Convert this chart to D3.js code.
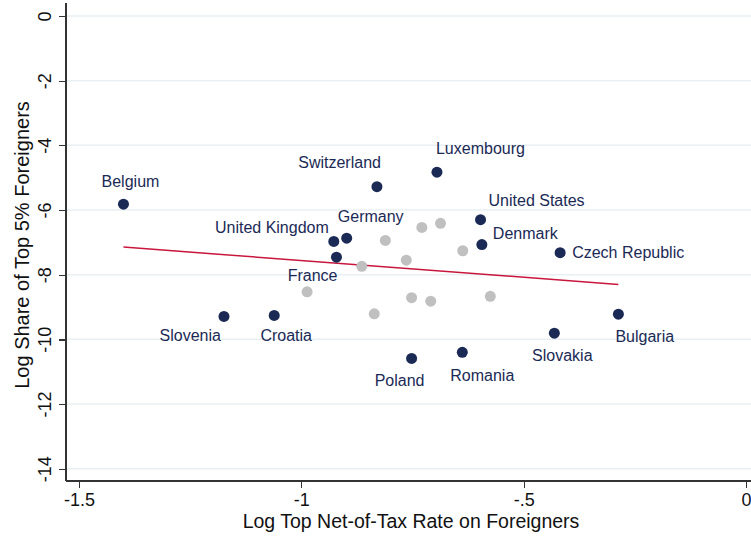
<!DOCTYPE html>
<html>
<head>
<meta charset="utf-8">
<script src="https://cdn.jsdelivr.net/npm/d3@7"></script>
<style>
  body { margin: 0; background: #fff; }
  text { font-family: "Liberation Sans", Arial, Helvetica, sans-serif; }
</style>
</head>
<body>
<script>
// labelled countries (navy dots)
const countries = ["Belgium", "Slovenia", "Croatia", "United Kingdom", "Germany", "France",
  "Switzerland", "Luxembourg", "United States", "Denmark", "Czech Republic",
  "Bulgaria", "Slovakia", "Poland", "Romania"];
const netTaxRate = [-1.400, -1.174, -1.061, -0.927, -0.898, -0.921,
  -0.830, -0.695, -0.597, -0.594, -0.418,
  -0.287, -0.431, -0.752, -0.638];
const shareForeigners = [-5.82, -9.29, -9.26, -6.97, -6.87, -7.46,
  -5.28, -4.83, -6.30, -7.07, -7.32,
  -9.22, -9.81, -10.59, -10.40];

// unlabelled countries (grey dots)
const otherRate = [-0.811, -0.729, -0.687, -0.637, -0.764, -0.864, -0.987, -0.752, -0.709, -0.575, -0.836];
const otherShare = [-6.94, -6.54, -6.41, -7.26, -7.55, -7.74, -8.53, -8.71, -8.82, -8.67, -9.21];

const xTicks = [-1.5, -1, -0.5, 0];
const yTicks = [0, -2, -4, -6, -8, -10, -12, -14];

// label placement around each marker: [dx, dy, anchor]
const labelPos = {
  "Belgium": [7, -23, "middle"],
  "Slovenia": [-3, 19, "end"],
  "Croatia": [12, 20, "middle"],
  "United Kingdom": [-5, -14, "end"],
  "Germany": [24, -22, "middle"],
  "France": [1, 18, "end"],
  "Switzerland": [4, -24, "end"],
  "Luxembourg": [-1, -24, "start"],
  "United States": [8, -19, "start"],
  "Denmark": [11, -11, "start"],
  "Czech Republic": [12, 0, "start"],
  "Bulgaria": [-3, 22, "start"],
  "Slovakia": [8, 22, "middle"],
  "Poland": [-12, 22, "middle"],
  "Romania": [20, 23, "middle"]
};

const W = 751, H = 539;
const navy = "#1a2a55", grey = "#c0c0c0", red = "#c8163c";

const x = d3.scaleLinear().domain([-1.5, 0]).range([79, 746]);
const y = d3.scaleLinear().domain([0, -14]).range([16, 468.7]);
const axisLeft = 66, axisBottom = 481;

const svg = d3.select("body").append("svg")
  .attr("width", W).attr("height", H);

// grid lines
svg.append("g").selectAll("line")
  .data(yTicks)
  .join("line")
  .attr("x1", axisLeft).attr("x2", W)
  .attr("y1", d => y(d)).attr("y2", d => y(d))
  .attr("stroke", "#e8f0f3").attr("stroke-width", 1.5);

// stata-style number labels: plain minus, no leading zero
const fmt = d => d === 0 ? "0" : String(d).replace("0.", ".");

// y axis
const yAxis = svg.append("g")
  .attr("transform", `translate(${axisLeft},0)`)
  .call(d3.axisLeft(y).tickValues(yTicks).tickSize(7).tickFormat(fmt));
yAxis.select(".domain").attr("d", `M0,3V${axisBottom}`).attr("stroke", "#333").attr("stroke-width", 1.3);
yAxis.selectAll(".tick line").attr("stroke", "#333").attr("stroke-width", 1.3);
yAxis.selectAll(".tick text")
  .attr("x", 0).attr("dy", "0.35em")
  .attr("transform", "translate(-21,0) rotate(-90)")
  .attr("text-anchor", "middle")
  .attr("font-size", 18).attr("fill", "#111");

// x axis
const xAxis = svg.append("g")
  .attr("transform", `translate(0,${axisBottom})`)
  .call(d3.axisBottom(x).tickValues(xTicks).tickSize(7).tickFormat(fmt));
xAxis.select(".domain").attr("d", `M${axisLeft},0H${W}`).attr("stroke", "#333").attr("stroke-width", 1.3);
xAxis.selectAll(".tick line").attr("stroke", "#333").attr("stroke-width", 1.3);
xAxis.selectAll(".tick text")
  .attr("y", 12).attr("dy", "0.71em")
  .attr("font-size", 18).attr("fill", "#111");

svg.selectAll(".domain, .tick line").attr("shape-rendering", "crispEdges");

// axis titles
svg.append("text")
  .attr("x", 411).attr("y", 528)
  .attr("text-anchor", "middle").attr("font-size", 19.5).attr("fill", "#111")
  .text("Log Top Net-of-Tax Rate on Foreigners");
svg.append("text")
  .attr("transform", "translate(29,245) rotate(-90)")
  .attr("text-anchor", "middle").attr("font-size", 20).attr("fill", "#111")
  .text("Log Share of Top 5% Foreigners");

// fitted line: OLS over all countries
const allX = netTaxRate.concat(otherRate);
const allY = shareForeigners.concat(otherShare);
const mx = d3.mean(allX), my = d3.mean(allY);
const slope = d3.sum(allX, (v, i) => (v - mx) * (allY[i] - my)) / d3.sum(allX, v => (v - mx) ** 2);
const intercept = my - slope * mx;
const xr = d3.extent(allX);
svg.append("line")
  .attr("x1", x(xr[0])).attr("y1", y(intercept + slope * xr[0]))
  .attr("x2", x(xr[1])).attr("y2", y(intercept + slope * xr[1]))
  .attr("stroke", red).attr("stroke-width", 1.5);

// grey dots
svg.append("g").selectAll("circle")
  .data(otherRate)
  .join("circle")
  .attr("cx", d => x(d))
  .attr("cy", (d, i) => y(otherShare[i]))
  .attr("r", 5.5)
  .attr("fill", grey);

// navy dots
svg.append("g").selectAll("circle")
  .data(countries)
  .join("circle")
  .attr("cx", (d, i) => x(netTaxRate[i]))
  .attr("cy", (d, i) => y(shareForeigners[i]))
  .attr("r", 5.5)
  .attr("fill", navy);

// labels
svg.append("g").selectAll("text")
  .data(countries)
  .join("text")
  .attr("x", (d, i) => x(netTaxRate[i]) + labelPos[d][0])
  .attr("y", (d, i) => y(shareForeigners[i]) + labelPos[d][1])
  .attr("dy", "0.35em")
  .attr("text-anchor", d => labelPos[d][2])
  .attr("font-size", 16).attr("fill", navy)
  .text(d => d);
</script>
</body>
</html>
